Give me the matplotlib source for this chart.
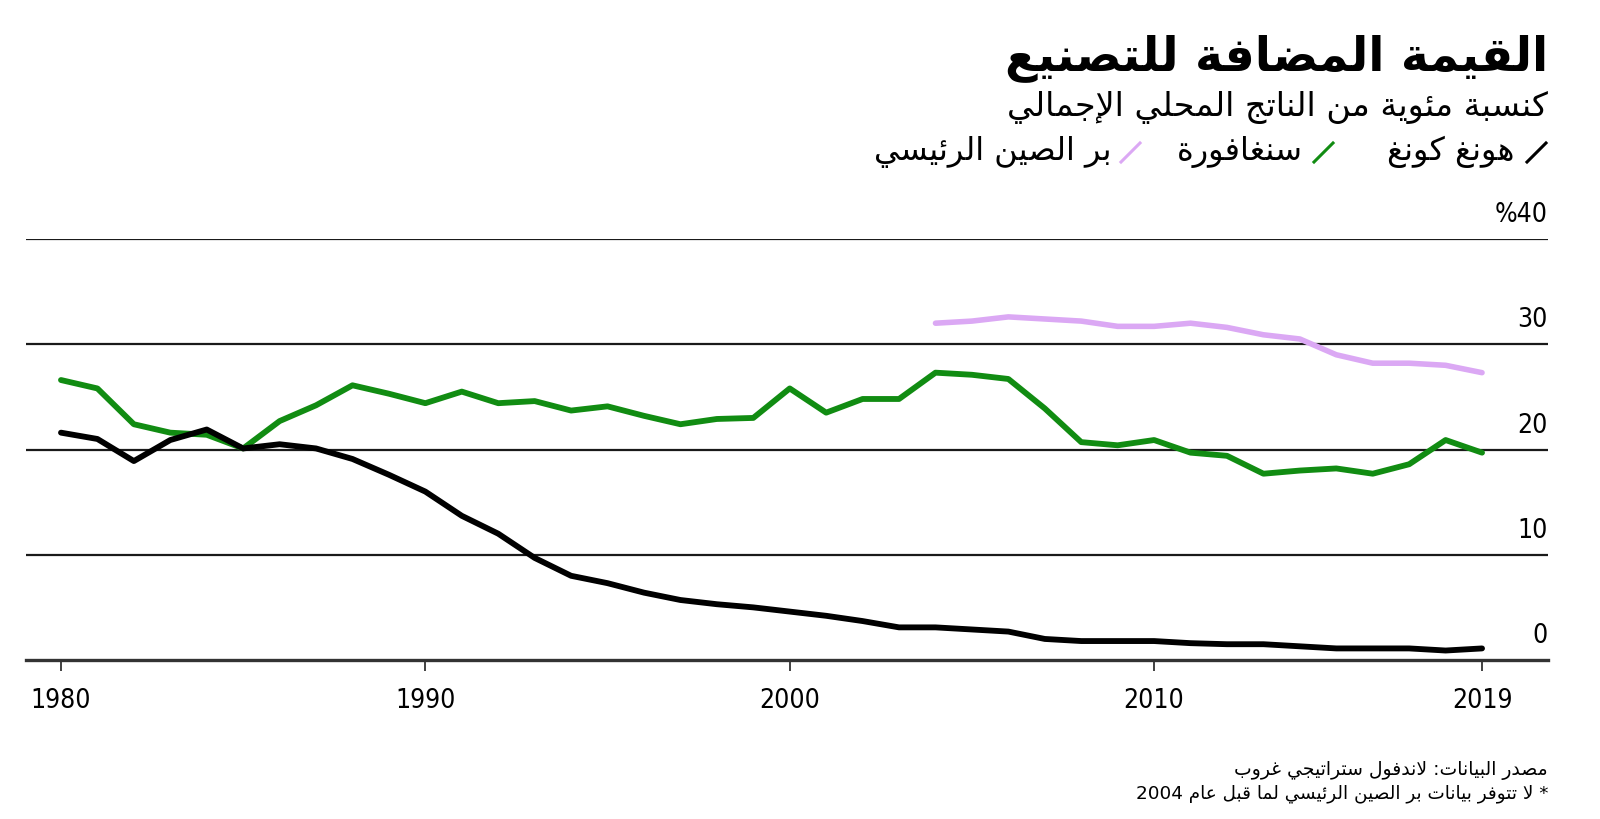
import re
import numpy as np
import matplotlib
matplotlib.use('Agg')
import matplotlib.pyplot as plt
from matplotlib.lines import Line2D

# ---- data (share of GDP, %) ----
years = np.arange(1980, 2020)
hong_kong = [21.6, 21.0, 18.9, 20.9, 21.9, 20.1, 20.5, 20.1, 19.1, 17.6,
             16.0, 13.7, 12.0, 9.7, 8.0, 7.3, 6.4, 5.7, 5.3, 5.0,
             4.6, 4.2, 3.7, 3.1, 3.1, 2.9, 2.7, 2.0, 1.8, 1.8,
             1.8, 1.6, 1.5, 1.5, 1.3, 1.1, 1.1, 1.1, 0.9, 1.1]
singapore = [26.6, 25.8, 22.4, 21.6, 21.4, 20.1, 22.7, 24.2, 26.1, 25.3,
             24.4, 25.5, 24.4, 24.6, 23.7, 24.1, 23.2, 22.4, 22.9, 23.0,
             25.8, 23.5, 24.8, 24.8, 27.3, 27.1, 26.7, 23.9, 20.7, 20.4,
             20.9, 19.7, 19.4, 17.7, 18.0, 18.2, 17.7, 18.6, 20.9, 19.7]
china_years = np.arange(2004, 2020)
china = [32.0, 32.2, 32.6, 32.4, 32.2, 31.7, 31.7, 32.0, 31.6, 30.9,
         30.5, 29.0, 28.2, 28.2, 28.0, 27.3]

xticks = [1980, 1990, 2000, 2010, 2019]
yticks = [0, 10, 20, 30, 40]
ytick_labels = ['0', '10', '20', '30', '%40']

title = 'القيمة المضافة للتصنيع'
subtitle = 'كنسبة مئوية من الناتج المحلي الإجمالي'
names = ['هونغ كونغ', 'سنغافورة', 'بر الصين الرئيسي']
source = 'مصدر البيانات: لاندفول ستراتيجي غروب'
note = '* لا تتوفر بيانات بر الصين الرئيسي لما قبل عام 2004'

c_hk = '#000000'
c_sg = '#118c12'
c_cn = '#dba8f4'

# ---- minimal arabic shaping (presentation forms) + visual order ----
_forms = [('آ', 0xFE81, 2), ('أ', 0xFE83, 2), ('ؤ', 0xFE85, 2), ('إ', 0xFE87, 2),
          ('ئ', 0xFE89, 4), ('ا', 0xFE8D, 2), ('ب', 0xFE8F, 4), ('ة', 0xFE93, 2),
          ('ت', 0xFE95, 4), ('ث', 0xFE99, 4), ('ج', 0xFE9D, 4), ('ح', 0xFEA1, 4),
          ('خ', 0xFEA5, 4), ('د', 0xFEA9, 2), ('ذ', 0xFEAB, 2), ('ر', 0xFEAD, 2),
          ('ز', 0xFEAF, 2), ('س', 0xFEB1, 4), ('ش', 0xFEB5, 4), ('ص', 0xFEB9, 4),
          ('ض', 0xFEBD, 4), ('ط', 0xFEC1, 4), ('ظ', 0xFEC5, 4), ('ع', 0xFEC9, 4),
          ('غ', 0xFECD, 4), ('ف', 0xFED1, 4), ('ق', 0xFED5, 4), ('ك', 0xFED9, 4),
          ('ل', 0xFEDD, 4), ('م', 0xFEE1, 4), ('ن', 0xFEE5, 4), ('ه', 0xFEE9, 4),
          ('و', 0xFEED, 2), ('ى', 0xFEEF, 2), ('ي', 0xFEF1, 4)]
FORMS = {ch: (cp, n) for ch, cp, n in _forms}
LAM_ALEF = {'آ': 0xFEF5, 'أ': 0xFEF7, 'إ': 0xFEF9, 'ا': 0xFEFB}


def shape(text):
    toks = []
    i = 0
    while i < len(text):
        c = text[i]
        if c == 'ل' and i + 1 < len(text) and text[i + 1] in LAM_ALEF:
            toks.append(('LA', text[i + 1]))
            i += 2
        else:
            toks.append(('C', c))
            i += 1

    def jtype(t):
        if t[0] == 'LA':
            return 2
        return FORMS.get(t[1], (0, 0))[1]

    out = []
    for k, t in enumerate(toks):
        j = jtype(t)
        pj = jtype(toks[k - 1]) if k > 0 else 0
        nj = jtype(toks[k + 1]) if k + 1 < len(toks) else 0
        jp = j > 0 and pj == 4
        jn = j == 4 and nj > 0
        if t[0] == 'LA':
            out.append(chr(LAM_ALEF[t[1]] + (1 if jp else 0)))
        elif j == 0:
            out.append(t[1])
        else:
            idx = 3 if (jp and jn) else 1 if jp else 2 if jn else 0
            out.append(chr(FORMS[t[1]][0] + idx))
    return ''.join(out)


def ar(text):
    runs = re.findall(r'[0-9A-Za-z.]+|[^0-9A-Za-z.]', shape(text))
    return ''.join(reversed(runs))


num_font = dict(family='DejaVu Sans', fontstretch='condensed', fontsize=19)

W, H = 1600, 819
fig = plt.figure(figsize=(W / 100, H / 100), dpi=100)
ax = fig.add_axes([26 / W, 1 - 660 / H, 1522 / W, 421 / H])

ax.plot(years, singapore, color=c_sg, lw=4.2, solid_capstyle='round', zorder=3)
ax.plot(years, hong_kong, color=c_hk, lw=4.2, solid_capstyle='round', zorder=4)
ax.plot(china_years, china, color=c_cn, lw=4.0, solid_capstyle='round', zorder=3)

ax.set_xlim(1979.04, 2020.81)
ax.set_ylim(0, 40)
for v in yticks[1:]:
    ax.axhline(v, color='#1a1a1a', lw=1.6, zorder=1)

for s in ['top', 'right', 'left']:
    ax.spines[s].set_visible(False)
ax.spines['bottom'].set_color('#333333')
ax.spines['bottom'].set_linewidth(2.4)

ax.set_xticks(xticks)
ax.set_xticklabels([str(x) for x in xticks], **num_font)
ax.tick_params(axis='x', length=8, width=1.3, color='#333333', pad=12)
ax.set_yticks([])

for v, lab in zip(yticks, ytick_labels):
    ax.text(1.0, v + 1.6, lab, transform=ax.get_yaxis_transform(),
            ha='right', va='baseline', **num_font)

# ---- titles ----
fig.text(1548 / W, 1 - 58 / H, ar(title), ha='right', va='center',
         fontsize=34, fontweight='bold', family='DejaVu Sans')
fig.text(1548 / W, 1 - 108 / H, ar(subtitle), ha='right', va='center',
         fontsize=24, family='DejaVu Sans')

# ---- legend ----
leg = [(1546, 1514, c_hk), (1333, 1303, c_sg), (1140, 1111, c_cn)]
for (sx, tx, col), name in zip(leg, names):
    fig.add_artist(Line2D([(sx - 19) / W, sx / W], [1 - 162 / H, 1 - 143 / H],
                          color=col, lw=2.2, transform=fig.transFigure))
    fig.text(tx / W, 1 - 152 / H, ar(name), ha='right', va='center',
             fontsize=23, family='DejaVu Sans')

# ---- footer ----
fig.text(1548 / W, 1 - 770 / H, ar(source), ha='right', va='center',
         fontsize=13.5, family='DejaVu Sans')
fig.text(1548 / W, 1 - 794 / H, ar(note), ha='right', va='center',
         fontsize=13.2, family='DejaVu Sans')

fig.savefig('out.png', dpi=100, facecolor='white')
